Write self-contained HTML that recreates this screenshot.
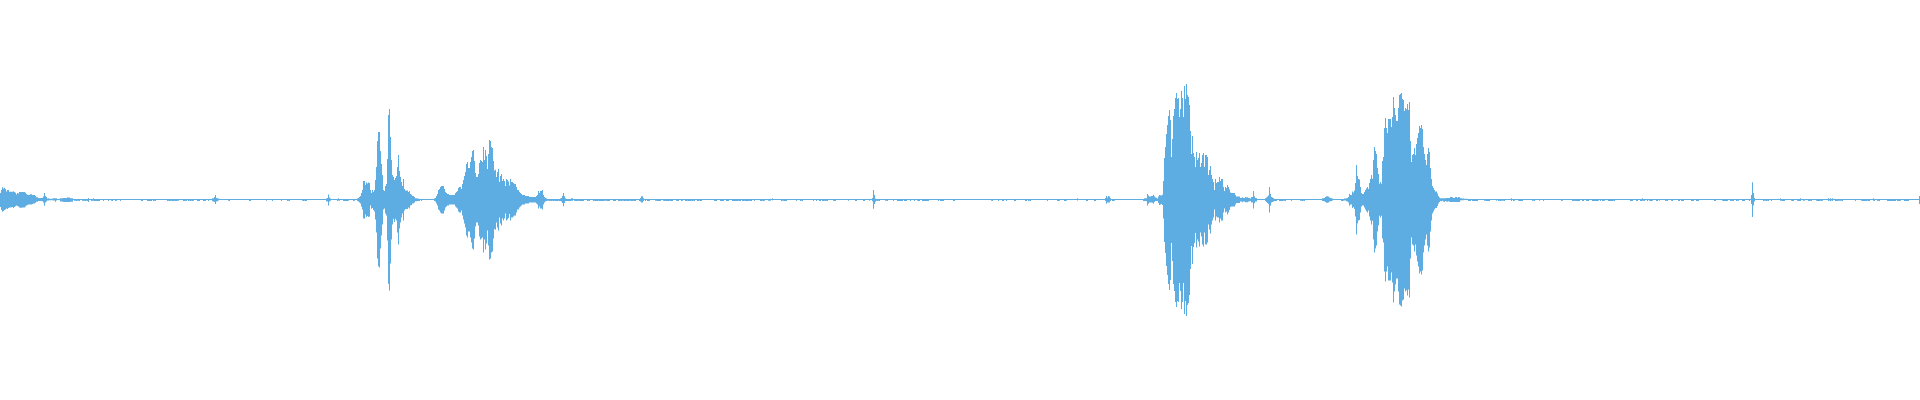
<!DOCTYPE html>
<html><head><meta charset="utf-8"><title>waveform</title>
<style>html,body{margin:0;padding:0;background:#fff;overflow:hidden}svg{display:block}</style>
</head><body>
<svg width="1920" height="400" viewBox="0 0 1920 400">
<rect width="1920" height="400" fill="#ffffff"/>
<path fill="#5dade2" d="M0 193h1v14h-1zM1 190h1v20h-1zM2 187.2h1v24.6h-1zM3 188.5h1v22.5h-1zM4 187.8h1v22.2h-1zM5 189h1v20.5h-1zM6 191.5h1v17h-1zM7 190h1v19h-1zM8 190h1v18h-1zM9 191.8h2v15.7h-2zM11 191.8h1v15.5h-1zM12 191.8h1v15.2h-1zM13 191.2h1v16.8h-1zM14 192h1v15h-1zM15 192.8h1v13.4h-1zM16 194.5h1v11h-1zM17 193h1v13h-1zM18 193.5h1v13h-1zM19 192h1v15.5h-1zM20 192h2v15.8h-2zM22 192h3v15.5h-3zM25 192.8h1v13.7h-1zM26 194h1v11.5h-1zM27 194.8h1v10.2h-1zM28 195h2v9.5h-2zM30 194.3h2v10.2h-2zM32 195h1v9h-1zM33 195h2v8.5h-2zM35 196h1v6.8h-1zM36 197.2h2v4.6h-2zM38 198h4v3h-4zM42 197.8h1v3.4h-1zM43 196.5h1v6h-1zM44 193h1v12.8h-1zM45 196h1v6.5h-1zM46 197h1v4.5h-1zM47 198.5h1v2h-1zM48 198.2h1v2.3h-1zM49 198.8h4v1.5h-4zM53 198.2h2v2.3h-2zM55 198.2h1v3.6h-1zM56 198.2h1v2.3h-1zM57 199h3v1h-3zM60 198.3h3v3.2h-3zM63 198.1h4v3.8h-4zM67 197.4h3v4.6h-3zM70 198.3h3v3.4h-3zM73 199h1v1h-1zM74 199h2v1.8h-2zM76 199h1v1.9h-1zM77 199h2v1.8h-2zM79 199h1v2h-1zM80 199h2v1h-2zM82 199h1v1.8h-1zM83 199h1v2h-1zM84 199h1v1.8h-1zM85 199h1v1.9h-1zM86 199h1v1.8h-1zM87 199h1v2h-1zM88 198h1v4h-1zM89 199h2v1h-2zM91 199h1v1.9h-1zM92 199h1v1.8h-1zM93 198.3h1v2.5h-1zM94 199h1v1.9h-1zM95 199h4v2h-4zM99 199h1v1.9h-1zM100 199h3v1h-3zM103 199h1v2h-1zM104 199h4v1h-4zM108 199h1v2h-1zM109 199h2v1h-2zM111 199h1v1.8h-1zM112 199h1v2h-1zM113 199h2v1h-2zM115 199h1v2h-1zM116 199h1v1.8h-1zM117 199h3v1h-3zM120 199h1v2h-1zM121 199h20v1h-20zM141 199h2v2h-2zM143 199h4v1h-4zM147 199h3v2h-3zM150 199h2v1.9h-2zM152 199h1v1h-1zM153 199h1v2h-1zM154 199h1v1.8h-1zM155 199h1v1.9h-1zM156 199h11v1h-11zM167 199h1v2h-1zM168 199h1v1.8h-1zM169 199h1v2h-1zM170 199h1v1.9h-1zM171 199h1v1.8h-1zM172 199h1v1.9h-1zM173 199h1v2h-1zM174 199h1v1.8h-1zM175 199h1v1.9h-1zM176 199h1v2h-1zM177 199h2v1.8h-2zM179 199h4v1h-4zM183 199h2v2h-2zM185 199h1v1.8h-1zM186 199h1v1.9h-1zM187 199h1v1h-1zM188 199h1v1.9h-1zM189 199h1v1.8h-1zM190 199h1v1.9h-1zM191 199h1v1.8h-1zM192 199h1v2h-1zM193 199h1v1.8h-1zM194 199h3v1h-3zM197 199h1v1.9h-1zM198 199h1v2h-1zM199 199h1v1.9h-1zM200 199h3v1h-3zM203 199h3v1.9h-3zM206 199h2v1h-2zM208 199h1v2h-1zM209 199h3v1h-3zM212 198.3h1v2.9h-1zM213 198.2h1v3.2h-1zM214 197h1v5h-1zM215 195h1v9h-1zM216 198h1v3.6h-1zM217 198.3h1v2.9h-1zM218 198.6h1v2h-1zM219 199h9v1h-9zM228 199h1v1.8h-1zM229 199h1v1.9h-1zM230 199h19v1h-19zM249 199h2v2h-2zM251 199h15v1h-15zM266 199h1v1.8h-1zM267 199h5v1h-5zM272 199h1v1.9h-1zM273 199h8v1h-8zM281 199h1v2h-1zM282 199h5v1h-5zM287 199h1v1.9h-1zM288 199h1v1.8h-1zM289 199h1v2h-1zM290 199h12v1h-12zM302 199h1v1.8h-1zM303 199h1v2h-1zM304 199h1v1.8h-1zM305 199h2v2h-2zM307 199h19v1h-19zM326 198.4h1v2.8h-1zM327 198h1v3.4h-1zM328 194.4h1v11.2h-1zM329 197.6h1v3.9h-1zM330 198.5h1v2.2h-1zM331 199h6v1h-6zM337 199h1v1.9h-1zM338 198.3h1v2.2h-1zM339 199h1v1.8h-1zM340 199h3v1h-3zM343 199h2v2h-2zM345 199h1v1.9h-1zM346 199h2v2h-2zM348 199h1v1.8h-1zM349 199h4v1h-4zM353 199h1v2h-1zM354 199h1v1.8h-1zM355 199h2v1h-2zM357 198.4h1v2.7h-1zM358 198h1v3.5h-1zM359 197h1v5.5h-1zM360 196h1v7.5h-1zM361 193h1v13.5h-1zM362 190h1v19.5h-1zM363 181h2v37.5h-2zM365 185h1v29.5h-1zM366 182.5h1v34.5h-1zM367 183.5h1v32.5h-1zM368 182.5h1v34.5h-1zM369 183h1v33.5h-1zM370 190h1v15.6h-1zM371 193h1v15.75h-1zM372 190h1v18h-1zM373 192h1v18h-1zM374 190h1v21.5h-1zM375 180h1v39.5h-1zM376 167h1v65.5h-1zM377 141h1v117.5h-1zM378 132h1v134.3h-1zM379 132h1v135.5h-1zM380 151h1v97.5h-1zM381 164h1v71.5h-1zM382 175h1v49.5h-1zM383 190h1v19.5h-1zM384 191h1v17.5h-1zM385 186h1v27.5h-1zM386 184h1v31.5h-1zM387 159h1v81.5h-1zM388 115h1v168.8h-1zM389 109h1v181.5h-1zM390 137h1v126.5h-1zM391 160h1v79.5h-1zM392 175h1v49.5h-1zM393 177h1v41.75h-1zM394 180h1v41.9h-1zM395 178h1v40.75h-1zM396 176h1v44.6h-1zM397 167h1v65.5h-1zM398 155h1v89.5h-1zM399 171h1v57.5h-1zM400 177h1v45.5h-1zM401 182h1v35.5h-1zM402 186h1v27.5h-1zM403 179h1v41.5h-1zM404 189h1v21.5h-1zM405 190.5h3v18.5h-3zM408 192h1v15.5h-1zM409 191h1v17.5h-1zM410 194h1v11.5h-1zM411 194.5h1v10.5h-1zM412 196h2v7.5h-2zM414 197h1v5.5h-1zM415 198.3h2v2.9h-2zM417 198.6h2v2.3h-2zM419 199h1v2h-1zM420 199h1v1h-1zM421 199h1v1.9h-1zM422 199h12v1h-12zM434 198.4h1v2.7h-1zM435 198h1v3.5h-1zM436 196h1v7.5h-1zM437 194h1v11.5h-1zM438 190h1v19.5h-1zM439 189h1v21.5h-1zM440 187h1v25.5h-1zM441 186h3v27.5h-3zM444 189h1v21.5h-1zM445 192h1v15.5h-1zM446 193h1v13.5h-1zM447 194h2v11.5h-2zM449 195h6v9.5h-6zM455 193h1v13.5h-1zM456 192h1v15.5h-1zM457 191h1v17.5h-1zM458 188h1v23.5h-1zM459 187h2v25.5h-2zM461 189h1v21.5h-1zM462 184h1v31.5h-1zM463 180h1v39.5h-1zM464 176h1v47.5h-1zM465 172h1v55.5h-1zM466 164h1v71.5h-1zM467 162h1v75.5h-1zM468 168h2v63.5h-2zM470 162h1v75.5h-1zM471 157h1v85.5h-1zM472 151h1v97.5h-1zM473 150h1v99.5h-1zM474 161h1v77.5h-1zM475 173h1v53.5h-1zM476 177h2v45.5h-2zM478 174h1v51.5h-1zM479 163h1v73.5h-1zM480 160h1v79.5h-1zM481 161h1v77.5h-1zM482 162h1v75.5h-1zM483 147h1v105.5h-1zM484 160h1v79.5h-1zM485 150h1v99.5h-1zM486 156h1v87.5h-1zM487 169h1v61.5h-1zM488 154h1v91.5h-1zM489 140h1v119.5h-1zM490 141h1v117.5h-1zM491 147h1v105.5h-1zM492 148h1v103.5h-1zM493 161h1v77.5h-1zM494 170.4h1v58.7h-1zM495 169.75h1v60h-1zM496 177h1v45.5h-1zM497 172h1v55.5h-1zM498 169h1v61.5h-1zM499 182h1v35.5h-1zM500 176h1v47.5h-1zM501 174h1v51.5h-1zM502 181h1v37.5h-1zM503 179h1v41.5h-1zM504 181h1v37.5h-1zM505 186h1v27.5h-1zM506 179h1v41.5h-1zM507 180h1v39.5h-1zM508 181.6h1v36.3h-1zM509 185.4h1v28.7h-1zM510 179h1v41.5h-1zM511 182h2v35.5h-2zM513 183h1v33.5h-1zM514 184h2v31.5h-2zM516 187h1v25.5h-1zM517 190h2v19.5h-2zM519 192h1v15.5h-1zM520 193h1v13.5h-1zM521 194h1v11.5h-1zM522 195h3v9.5h-3zM525 196h4v7.5h-4zM529 197h7v5.5h-7zM536 196h1v7.5h-1zM537 195h1v9.5h-1zM538 191h1v17.5h-1zM539 193h1v13.5h-1zM540 191h2v17.5h-2zM542 190h1v19.5h-1zM543 195h1v9.5h-1zM544 197h1v5.5h-1zM545 198h1v3.5h-1zM546 198.4h1v2.7h-1zM547 199h2v1.8h-2zM549 199h1v2h-1zM550 199h1v1.8h-1zM551 199h1v2h-1zM552 199h1v1.8h-1zM553 199h1v1.9h-1zM554 199h1v1.8h-1zM555 199h2v2h-2zM557 199h1v1.9h-1zM558 199h1v1.8h-1zM559 199h1v1.9h-1zM560 198.4h1v2.6h-1zM561 198h1v3.4h-1zM562 196h1v7h-1zM563 193h1v13.2h-1zM564 196.3h1v6.7h-1zM565 198.3h1v2.7h-1zM566 199h1v1.9h-1zM567 199h1v2h-1zM568 199h1v1.9h-1zM569 199h2v2h-2zM571 198.3h2v2.5h-2zM573 199h1v1h-1zM574 199h1v1.8h-1zM575 199h1v2h-1zM576 199h1v1.9h-1zM577 199h1v2h-1zM578 199h1v1.8h-1zM579 199h3v2h-3zM582 199h2v1.9h-2zM584 199h3v1h-3zM587 199h1v2h-1zM588 199h1v1.8h-1zM589 199h1v2h-1zM590 199h3v1h-3zM593 199h1v2h-1zM594 199h1v1.8h-1zM595 199h3v2h-3zM598 199h1v1.8h-1zM599 199h1v2h-1zM600 199h1v1.9h-1zM601 199h2v2h-2zM603 199h1v1.9h-1zM604 199h3v1.8h-3zM607 199h1v2h-1zM608 199h2v1.9h-2zM610 199h3v1h-3zM613 199h2v2h-2zM615 199h1v1.9h-1zM616 199h2v1h-2zM618 199h1v2h-1zM619 199h1v1.9h-1zM620 199h1v1.8h-1zM621 199h1v1.9h-1zM622 199h2v1.8h-2zM624 199h2v2h-2zM626 199h1v1.8h-1zM627 199h1v1.9h-1zM628 199h1v2h-1zM629 199h2v1.8h-2zM631 199h2v2h-2zM633 199h1v1.8h-1zM634 199h2v1.9h-2zM636 199h3v1h-3zM639 199h1v2h-1zM640 198h1v3.5h-1zM641 196.3h2v6.3h-2zM643 198.2h1v2.8h-1zM644 199h1v1h-1zM645 199h1v2h-1zM646 199h1v1h-1zM647 199h1v1.9h-1zM648 199h2v2h-2zM650 199h5v1h-5zM655 199h2v1.8h-2zM657 199h1v1.9h-1zM658 199h3v2h-3zM661 199h2v1h-2zM663 199h1v1.8h-1zM664 199h1v2h-1zM665 199h1v1.8h-1zM666 199h2v2h-2zM668 199h1v1.9h-1zM669 199h1v1.8h-1zM670 199h2v2h-2zM672 199h1v1.9h-1zM673 199h3v1h-3zM676 199h1v1.8h-1zM677 199h1v2h-1zM678 199h1v1.9h-1zM679 199h2v1h-2zM681 199h1v1.9h-1zM682 199h1v1.8h-1zM683 199h2v1h-2zM685 199h1v1.9h-1zM686 199h1v2h-1zM687 199h1v1.8h-1zM688 199h2v2h-2zM690 199h1v1.9h-1zM691 199h1v1.8h-1zM692 199h1v2h-1zM693 199h1v1.8h-1zM694 199h1v2h-1zM695 199h2v1h-2zM697 199h2v2h-2zM699 199h1v1.8h-1zM700 199h1v2h-1zM701 199h1v1.9h-1zM702 199h12v1h-12zM714 199h2v2h-2zM716 199h1v1.9h-1zM717 199h3v1h-3zM720 199h2v1.9h-2zM722 199h2v2h-2zM724 199h2v1h-2zM726 199h1v1.9h-1zM727 199h2v2h-2zM729 199h3v1h-3zM732 199h1v1.9h-1zM733 199h4v2h-4zM737 199h1v1.9h-1zM738 199h1v1.8h-1zM739 199h1v2h-1zM740 199h1v1.9h-1zM741 199h1v1h-1zM742 199h1v1.9h-1zM743 199h1v2h-1zM744 199h1v1.8h-1zM745 199h2v2h-2zM747 199h2v1.9h-2zM749 199h1v1.8h-1zM750 199h2v2h-2zM752 199h2v1h-2zM754 199h1v2h-1zM755 199h5v1h-5zM760 199h2v2h-2zM762 199h1v1.8h-1zM763 199h1v1.9h-1zM764 199h1v1.8h-1zM765 199h3v1h-3zM768 199h3v1.8h-3zM771 199h1v1h-1zM772 198.3h1v2h-1zM773 199h8v1h-8zM781 199h1v1.9h-1zM782 199h2v1.8h-2zM784 199h3v2h-3zM787 199h9v1h-9zM796 199h1v2h-1zM797 199h3v1h-3zM800 199h1v2h-1zM801 199h1v1.8h-1zM802 199h1v2h-1zM803 199h10v1h-10zM813 199h1v1.9h-1zM814 199h2v1h-2zM816 199h1v1.9h-1zM817 199h2v1h-2zM819 199h1v2h-1zM820 199h1v1.9h-1zM821 199h1v1h-1zM822 199h1v1.9h-1zM823 199h1v2h-1zM824 199h1v1.8h-1zM825 199h1v1.9h-1zM826 199h1v1.8h-1zM827 199h1v1.9h-1zM828 199h5v1h-5zM833 199h1v1.8h-1zM834 199h1v1.9h-1zM835 199h1v2h-1zM836 199h12v1h-12zM848 199h1v1.8h-1zM849 199h6v1h-6zM855 199h1v2h-1zM856 199h1v1.9h-1zM857 199h6v1h-6zM863 199h1v2h-1zM864 199h1v1.9h-1zM865 199h4v1h-4zM869 199h1v1.8h-1zM870 199h2v1h-2zM872 198h1v3.3h-1zM873 190h1v18.8h-1zM874 195h1v9h-1zM875 198.4h1v3.4h-1zM876 199h1v1.8h-1zM877 199h1v2h-1zM878 199h1v1.8h-1zM879 199h1v2h-1zM880 199h5v1h-5zM885 199h2v1.8h-2zM887 199h1v2h-1zM888 199h5v1h-5zM893 199h1v2h-1zM894 199h3v1h-3zM897 199h3v2h-3zM900 199h1v1.9h-1zM901 199h1v2h-1zM902 199h1v1.9h-1zM903 199h1v1h-1zM904 199h1v2h-1zM905 199h1v1.9h-1zM906 199h1v2h-1zM907 199h3v1h-3zM910 199h1v2h-1zM911 199h3v1h-3zM914 199h1v2h-1zM915 199h2v1h-2zM917 199h1v1.8h-1zM918 199h2v2h-2zM920 199h2v1h-2zM922 199h1v2h-1zM923 199h4v1.9h-4zM927 199h1v2h-1zM928 199h1v1.9h-1zM929 199h9v1h-9zM938 199h1v2h-1zM939 199h1v1h-1zM940 199h1v2h-1zM941 199h3v1.9h-3zM944 199h9v1h-9zM953 199h2v2h-2zM955 199h36v1h-36zM991 199h1v1.8h-1zM992 199h1v2h-1zM993 199h5v1h-5zM998 199h1v1.9h-1zM999 199h3v1h-3zM1002 199h1v2h-1zM1003 199h1v1.9h-1zM1004 199h2v1h-2zM1006 199h1v2h-1zM1007 199h7v1h-7zM1014 199h2v1.9h-2zM1016 199h9v1h-9zM1025 199h2v1.9h-2zM1027 199h1v1h-1zM1028 199h1v2h-1zM1029 199h1v1.8h-1zM1030 199h1v2h-1zM1031 199h16v1h-16zM1047 199h1v2h-1zM1048 199h9v1h-9zM1057 199h2v2h-2zM1059 199h1v1.8h-1zM1060 199h4v1h-4zM1064 199h1v2h-1zM1065 199h1v1.9h-1zM1066 199h1v1.8h-1zM1067 199h10v1h-10zM1077 198.2h1v2.3h-1zM1078 199h8v1h-8zM1086 199h1v2h-1zM1087 199h1v1.9h-1zM1088 199h6v1h-6zM1094 199h1v1.9h-1zM1095 199h1v2h-1zM1096 199h9v1h-9zM1105 198.1h1v2.9h-1zM1106 196.1h1v7.65h-1zM1107 197.4h1v5.2h-1zM1108 196.1h1v6.5h-1zM1109 196.6h1v5.8h-1zM1110 198.3h1v2.7h-1zM1111 199h1v1h-1zM1112 199h2v2h-2zM1114 199h1v1.8h-1zM1115 199h28v1h-28zM1143 199h1v1.9h-1zM1144 198.3h2v2.7h-2zM1146 198.3h1v2.9h-1zM1147 194h1v11.6h-1zM1148 195.5h1v8.25h-1zM1149 196.6h2v6h-2zM1151 196h1v6.6h-1zM1152 196h1v6.8h-1zM1153 194.75h1v9h-1zM1154 196.25h1v5.65h-1zM1155 197.6h1v3.4h-1zM1156 197.8h1v3.2h-1zM1157 198.4h1v2.7h-1zM1158 196.6h1v6.4h-1zM1159 195.1h1v9.8h-1zM1160 195.3h1v9.2h-1zM1161 195.5h1v8.6h-1zM1162 194.75h1v10.15h-1zM1163 181h1v37.5h-1zM1164 158h1v84h-1zM1165 147h1v106h-1zM1166 134h1v132h-1zM1167 125h1v150h-1zM1168 116h1v168h-1zM1169 110h1v180h-1zM1170 120h1v160h-1zM1171 157h1v86h-1zM1172 139h1v122h-1zM1173 116h1v168h-1zM1174 109h1v182h-1zM1175 98h1v204h-1zM1176 93h1v214h-1zM1177 99h1v202h-1zM1178 98h1v204h-1zM1179 117h1v166h-1zM1180 109h1v182h-1zM1181 91h1v218h-1zM1182 98h1v204h-1zM1183 117h1v166h-1zM1184 86h1v228h-1zM1185 99h1v202h-1zM1186 84h1v232h-1zM1187 95h1v210h-1zM1188 97h1v206h-1zM1189 105h1v190h-1zM1190 131h1v138h-1zM1191 154h1v92h-1zM1192 136h1v128h-1zM1193 153h1v94h-1zM1194 157h1v86h-1zM1195 167h1v66h-1zM1196 152h1v95.5h-1zM1197 160h1v79.5h-1zM1198 158h1v83.5h-1zM1199 153h1v93.5h-1zM1200 167h1v65.5h-1zM1201 163h1v73.5h-1zM1202 155h1v89.5h-1zM1203 153h1v93.5h-1zM1204 167h1v65.5h-1zM1205 155h2v89.5h-2zM1207 157h1v85.5h-1zM1208 175h1v49.5h-1zM1209 170h1v59.5h-1zM1210 166h1v67.5h-1zM1211 175h1v49.5h-1zM1212 179h1v41.5h-1zM1213 182h1v35.5h-1zM1214 190h1v19.5h-1zM1215 179h1v41.5h-1zM1216 183h1v33.5h-1zM1217 182h2v35.5h-2zM1219 177h1v45.5h-1zM1220 181h1v37.5h-1zM1221 179h2v41.5h-2zM1223 187h1v25.5h-1zM1224 191h1v17.5h-1zM1225 187h1v25.5h-1zM1226 188h1v23.5h-1zM1227 185h1v29.5h-1zM1228 187h1v25.5h-1zM1229 189.4h1v20.7h-1zM1230 192.5h1v14.5h-1zM1231 193h4v13.5h-4zM1235 195h1v9.5h-1zM1236 196.4h4v6.7h-4zM1240 198h2v3.5h-2zM1242 197.3h1v4.9h-1zM1243 198h2v3.5h-2zM1245 197.3h3v4.9h-3zM1248 198h2v3.5h-2zM1250 198.4h1v2.7h-1zM1251 197h1v5.5h-1zM1252 196.9h1v5.7h-1zM1253 191h1v17.5h-1zM1254 196.25h1v7h-1zM1255 198.1h2v3.3h-2zM1257 199h8v1h-8zM1265 198.3h1v2.7h-1zM1266 197.5h1v4.5h-1zM1267 196.5h1v6.5h-1zM1268 195.6h1v8.3h-1zM1269 187h1v25.5h-1zM1270 193.75h1v12h-1zM1271 197h1v5.5h-1zM1272 197.5h1v4.5h-1zM1273 198.1h1v3.3h-1zM1274 199h2v2h-2zM1276 199h1v1.9h-1zM1277 199h2v1h-2zM1279 199h2v2h-2zM1281 199h2v1.9h-2zM1283 199h2v1.8h-2zM1285 199h1v1.9h-1zM1286 199h5v1h-5zM1291 199h1v2h-1zM1292 199h8v1h-8zM1300 199h2v1.8h-2zM1302 199h1v1.9h-1zM1303 199h1v1.8h-1zM1304 199h1v1.9h-1zM1305 199h17v1h-17zM1322 198.3h1v2.7h-1zM1323 198.2h1v2.8h-1zM1324 198h1v3.2h-1zM1325 197h1v5h-1zM1326 196.25h2v6.5h-2zM1328 196.6h1v6h-1zM1329 197.6h1v3.9h-1zM1330 198h1v3.2h-1zM1331 198.2h1v2.8h-1zM1332 198.4h1v2.2h-1zM1333 199h8v1h-8zM1341 199h2v2h-2zM1343 199h1v1.8h-1zM1344 198.4h2v2.2h-2zM1346 198.3h1v2.9h-1zM1347 198h1v3.5h-1zM1348 197h1v5.5h-1zM1349 193.75h1v12h-1zM1350 195h2v9.5h-2zM1352 191.5h1v16.5h-1zM1353 192.5h1v14.5h-1zM1354 190.6h1v18.3h-1zM1355 183h1v33.5h-1zM1356 165h1v69.5h-1zM1357 176h1v47.5h-1zM1358 179h1v41.5h-1zM1359 179.4h1v40.7h-1zM1360 187h1v25.5h-1zM1361 193h1v13.5h-1zM1362 194h2v11.5h-2zM1364 192h1v15.5h-1zM1365 190h1v19.5h-1zM1366 188.3h1v22.9h-1zM1367 187h1v25.5h-1zM1368 189h1v21.5h-1zM1369 183h1v33.5h-1zM1370 179h1v41.5h-1zM1371 175h1v49.5h-1zM1372 178.75h1v42h-1zM1373 160h1v79.5h-1zM1374 147h1v105.5h-1zM1375 151h1v97.5h-1zM1376 154h1v91.5h-1zM1377 168h1v63.5h-1zM1378 174h1v51.5h-1zM1379 183.75h1v32h-1zM1380 182h1v35.5h-1zM1381 183.75h1v32h-1zM1382 161h1v77.5h-1zM1383 157h1v85.5h-1zM1384 128h1v143.5h-1zM1385 118h1v163.5h-1zM1386 128h1v143.5h-1zM1387 133h1v133.5h-1zM1388 119h3v161.5h-3zM1391 127h1v145.5h-1zM1392 117h1v165.5h-1zM1393 97h1v205.5h-1zM1394 108h1v183.5h-1zM1395 115h1v169.5h-1zM1396 121h2v157.5h-2zM1398 108h1v183.5h-1zM1399 95h1v209.5h-1zM1400 94h1v211.5h-1zM1401 93h1v213.5h-1zM1402 99h1v201.5h-1zM1403 100h1v199.5h-1zM1404 111h1v177.5h-1zM1405 108h1v183.5h-1zM1406 109.25h1v181h-1zM1407 104h1v191.5h-1zM1408 110h1v179.5h-1zM1409 102h1v195.5h-1zM1410 141h1v117.5h-1zM1411 162h1v75.5h-1zM1412 155h1v89.5h-1zM1413 154h1v91.5h-1zM1414 148h1v103.5h-1zM1415 155h1v89.5h-1zM1416 144h1v111.5h-1zM1417 138h1v123.5h-1zM1418 133h1v133.5h-1zM1419 126h1v147.5h-1zM1420 128h1v143.5h-1zM1421 125h1v149.5h-1zM1422 129h1v141.5h-1zM1423 147h1v105.5h-1zM1424 154h1v91.5h-1zM1425 160h1v79.5h-1zM1426 165h1v69.5h-1zM1427 154h1v91.5h-1zM1428 148h1v103.5h-1zM1429 152h1v95.5h-1zM1430 168h1v63.5h-1zM1431 179h1v41.5h-1zM1432 186h1v27.5h-1zM1433 188h1v23.5h-1zM1434 190h1v19.5h-1zM1435 191.4h2v16.7h-2zM1437 193.5h1v12.5h-1zM1438 196h1v7.5h-1zM1439 197.4h1v4.7h-1zM1440 198.35h1v2.65h-1zM1441 198.35h1v2.95h-1zM1442 198.35h1v2.45h-1zM1443 198.35h1v3.25h-1zM1444 198.35h1v3.55h-1zM1445 198.35h1v2.65h-1zM1446 198.1h1v3.3h-1zM1447 198.1h1v3.7h-1zM1448 198.1h1v3.1h-1zM1449 198.1h1v3.7h-1zM1450 197h2v4.9h-2zM1452 197.2h1v4.7h-1zM1453 198.1h2v3.8h-2zM1455 196.9h2v5h-2zM1457 197.8h1v4.1h-1zM1458 196.9h1v5h-1zM1459 197.3h1v4.6h-1zM1460 198.3h1v2.2h-1zM1461 198.3h1v2h-1zM1462 198.4h2v1.8h-2zM1464 198.7h3v1.3h-3zM1467 198.8h1v1.2h-1zM1468 199h2v2h-2zM1470 199h1v1.9h-1zM1471 199h1v1h-1zM1472 199h2v1.9h-2zM1474 199h1v2h-1zM1475 199h2v1.9h-2zM1477 199h1v2h-1zM1478 199h6v1h-6zM1484 199h2v1.8h-2zM1486 199h2v2h-2zM1488 199h1v1.9h-1zM1489 199h1v2h-1zM1490 199h6v1h-6zM1496 199h1v1.8h-1zM1497 199h1v1h-1zM1498 199h1v1.9h-1zM1499 199h1v1.8h-1zM1500 199h1v1.9h-1zM1501 199h3v1.8h-3zM1504 199h1v2h-1zM1505 199h6v1h-6zM1511 198.2h1v2.8h-1zM1512 199h1v1h-1zM1513 199h1v1.9h-1zM1514 199h1v1.8h-1zM1515 199h3v1h-3zM1518 199h1v1.8h-1zM1519 199h1v1.9h-1zM1520 199h3v2h-3zM1523 199h9v1h-9zM1532 199h2v1.8h-2zM1534 199h1v1.9h-1zM1535 199h4v1h-4zM1539 199h1v1.8h-1zM1540 199h3v1h-3zM1543 199h1v2h-1zM1544 199h17v1h-17zM1561 199h1v2h-1zM1562 199h1v1.8h-1zM1563 199h9v1h-9zM1572 199h1v2h-1zM1573 199h1v1.9h-1zM1574 199h1v1.8h-1zM1575 199h1v1.9h-1zM1576 199h2v2h-2zM1578 199h1v1.9h-1zM1579 199h1v2h-1zM1580 199h2v1h-2zM1582 199h1v1.9h-1zM1583 199h1v2h-1zM1584 199h2v1h-2zM1586 199h1v1.9h-1zM1587 199h2v2h-2zM1589 199h3v1h-3zM1592 199h2v1.9h-2zM1594 199h1v2h-1zM1595 199h2v1.9h-2zM1597 199h1v2h-1zM1598 199h1v1.8h-1zM1599 199h1v1h-1zM1600 199h1v1.9h-1zM1601 199h1v1h-1zM1602 199h1v2h-1zM1603 199h1v1.9h-1zM1604 199h1v1.8h-1zM1605 199h3v1h-3zM1608 199h5v2h-5zM1613 199h1v1.8h-1zM1614 199h1v2h-1zM1615 199h15v1h-15zM1630 199h3v2h-3zM1633 199h3v1h-3zM1636 199h1v2h-1zM1637 199h1v1.9h-1zM1638 199h2v1h-2zM1640 199h1v2h-1zM1641 199h1v1.9h-1zM1642 198.3h1v2.5h-1zM1643 199h1v1.8h-1zM1644 199h1v2h-1zM1645 199h2v1h-2zM1647 199h1v1.9h-1zM1648 199h1v1h-1zM1649 199h1v1.8h-1zM1650 199h1v1.9h-1zM1651 199h1v2h-1zM1652 199h1v1.8h-1zM1653 199h3v1h-3zM1656 199h2v2h-2zM1658 199h1v1h-1zM1659 199h1v1.8h-1zM1660 199h5v1h-5zM1665 199h1v2h-1zM1666 199h1v1.8h-1zM1667 199h1v2h-1zM1668 199h3v1h-3zM1671 199h1v1.8h-1zM1672 199h1v1.9h-1zM1673 199h5v1h-5zM1678 199h2v1.9h-2zM1680 199h1v1h-1zM1681 199h2v1.9h-2zM1683 199h1v2h-1zM1684 199h7v1h-7zM1691 199h2v2h-2zM1693 199h1v1.9h-1zM1694 199h2v1h-2zM1696 199h1v2h-1zM1697 199h1v1.9h-1zM1698 199h1v2h-1zM1699 199h15v1h-15zM1714 199h1v2h-1zM1715 199h1v1.9h-1zM1716 199h6v1h-6zM1722 199h1v1.8h-1zM1723 199h2v2h-2zM1725 199h3v1.9h-3zM1728 199h2v1h-2zM1730 199h1v2h-1zM1731 199h1v1.8h-1zM1732 199h1v2h-1zM1733 199h1v1.9h-1zM1734 199h2v1h-2zM1736 199h1v2h-1zM1737 199h2v1.8h-2zM1739 199h3v1h-3zM1742 199h1v2h-1zM1743 199h1v1.9h-1zM1744 199h1v2h-1zM1745 199h4v1h-4zM1749 199h1v2h-1zM1750 199h1v1h-1zM1751 195h1v9h-1zM1752 182.25h1v34.75h-1zM1753 193h1v12.6h-1zM1754 198h1v3.5h-1zM1755 199h8v1h-8zM1763 199h1v2h-1zM1764 199h2v1.8h-2zM1766 199h1v2h-1zM1767 199h1v1.8h-1zM1768 199h1v2h-1zM1769 199h2v1h-2zM1771 199h1v2h-1zM1772 199h8v1h-8zM1780 198.2h1v2.6h-1zM1781 199h1v1.8h-1zM1782 199h3v2h-3zM1785 199h6v1h-6zM1791 199h1v1.8h-1zM1792 199h1v2h-1zM1793 199h1v1.9h-1zM1794 199h3v1h-3zM1797 199h1v1.8h-1zM1798 199h2v2h-2zM1800 198.2h1v2.8h-1zM1801 199h2v1h-2zM1803 199h2v1.8h-2zM1805 199h3v1h-3zM1808 199h1v2h-1zM1809 199h1v1.9h-1zM1810 199h1v1.8h-1zM1811 199h1v2h-1zM1812 199h4v1h-4zM1816 199h1v1.8h-1zM1817 199h1v1.9h-1zM1818 199h2v2h-2zM1820 199h1v1.8h-1zM1821 199h1v2h-1zM1822 199h1v1.8h-1zM1823 199h5v1h-5zM1828 198.2h1v2.8h-1zM1829 199h1v1.5h-1zM1830 198.2h1v3h-1zM1831 199h1v1.6h-1zM1832 198.3h1v2.7h-1zM1833 199h2v1h-2zM1835 199h1v2h-1zM1836 199h2v1.9h-2zM1838 199h4v1.8h-4zM1842 199h1v2h-1zM1843 199h12v1h-12zM1855 199h1v2h-1zM1856 199h5v1h-5zM1861 199h1v1.8h-1zM1862 199h1v1.9h-1zM1863 199h4v2h-4zM1867 199h1v1.8h-1zM1868 199h1v2h-1zM1869 199h1v1.9h-1zM1870 199h3v1h-3zM1873 198.2h1v2.6h-1zM1874 199h1v2h-1zM1875 199h2v1h-2zM1877 199h1v2h-1zM1878 199h1v1.8h-1zM1879 199h1v2h-1zM1880 199h7v1h-7zM1887 199h1v1.9h-1zM1888 199h2v2h-2zM1890 199h1v1.9h-1zM1891 199h5v2h-5zM1896 199h1v1h-1zM1897 199h1v1.9h-1zM1898 199h2v2h-2zM1900 199h1v1.8h-1zM1901 199h3v1h-3zM1904 199h1v1.9h-1zM1905 199h3v2h-3zM1908 199h1v1.9h-1zM1909 199h10v1h-10zM1919 196h1v8h-1z"/>
</svg>
</body></html>
